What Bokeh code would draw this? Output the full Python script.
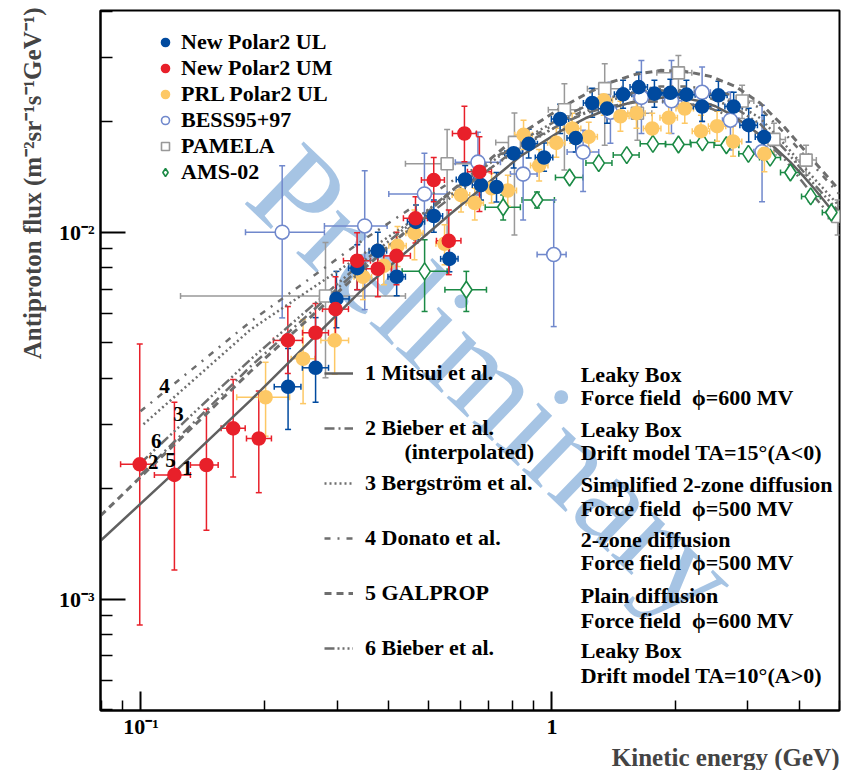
from bokeh.plotting import figure
from bokeh.models import (ColumnDataSource, Range1d, FixedTicker, Whisker, TeeHead,
                          Legend, LegendItem, Label, Title)
from bokeh.core.properties import value
from bokeh.embed import file_html
from bokeh.resources import INLINE

FONT = "Liberation Serif"

# ---------------- data (kinetic energy in GeV, flux in m^-2 sr^-1 s^-1 GeV^-1) -------------
ul_x = [0.228, 0.266, 0.299, 0.336, 0.377, 0.419, 0.467, 0.516, 0.563, 0.615, 0.672, 0.733, 0.807, 0.878, 0.957,
        1.047, 1.143, 1.253, 1.362, 1.490, 1.627, 1.776, 1.942, 2.125, 2.320, 2.542, 2.769, 3.012, 3.283]
ul_y = [3.79e-3, 4.27e-3, 6.58e-3, 7.98e-3, 8.90e-3, 7.56e-3, 1.067e-2, 1.107e-2, 8.46e-3, 1.392e-2, 1.344e-2,
        1.328e-2, 1.640e-2, 1.741e-2, 1.598e-2, 2.035e-2, 1.805e-2, 2.250e-2, 2.171e-2, 2.376e-2, 2.486e-2,
        2.386e-2, 2.398e-2, 2.371e-2, 2.200e-2, 2.361e-2, 2.200e-2, 1.957e-2, 1.816e-2]
ul_ylo = [2.90e-3, 3.44e-3, 5.49e-3, 6.97e-3, 7.80e-3, 6.71e-3, 9.53e-3, 1.0e-2, 7.80e-3, 1.263e-2, 1.224e-2,
          1.208e-2, 1.495e-2, 1.593e-2, 1.466e-2, 1.858e-2, 1.653e-2, 2.057e-2, 1.982e-2, 2.177e-2, 2.274e-2,
          2.19e-2, 2.204e-2, 2.170e-2, 2.007e-2, 2.149e-2, 1.994e-2, 1.760e-2, 1.572e-2]
ul_yhi = [4.82e-3, 5.85e-3, 7.82e-3, 9.24e-3, 1.0e-2, 8.52e-3, 1.186e-2, 1.224e-2, 9.18e-3, 1.52e-2, 1.477e-2,
          1.455e-2, 1.805e-2, 1.909e-2, 1.750e-2, 2.232e-2, 1.982e-2, 2.466e-2, 2.376e-2, 2.593e-2, 2.727e-2,
          2.593e-2, 2.61e-2, 2.593e-2, 2.406e-2, 2.58e-2, 2.406e-2, 2.177e-2, 2.084e-2]
ul_xlo = [0.211, 0.247, 0.278, 0.320, 0.359, 0.399, 0.445, 0.491, 0.536, 0.585, 0.640, 0.698, 0.768, 0.836, 0.911,
          0.997, 1.088, 1.193, 1.297, 1.419, 1.549, 1.691, 1.849, 2.023, 2.209, 2.420, 2.636, 2.867, 3.125]
ul_xhi = [0.245, 0.286, 0.321, 0.353, 0.396, 0.440, 0.490, 0.542, 0.591, 0.646, 0.706, 0.770, 0.847, 0.922, 1.005,
          1.099, 1.200, 1.316, 1.430, 1.565, 1.708, 1.865, 2.039, 2.231, 2.436, 2.669, 2.907, 3.163, 3.447]

um_x = [0.0993, 0.1206, 0.1443, 0.1676, 0.1935, 0.2277, 0.2659, 0.2974, 0.3357, 0.3769, 0.4185, 0.4656, 0.5157,
        0.5611, 0.6125, 0.6662]
um_y = [2.33e-3, 2.18e-3, 2.32e-3, 2.92e-3, 2.74e-3, 5.07e-3, 5.32e-3, 6.17e-3, 8.36e-3, 7.95e-3, 8.62e-3,
        1.091e-2, 1.387e-2, 9.47e-3, 1.858e-2, 1.461e-2]
um_ylo = [8.5e-4, 1.20e-3, 1.54e-3, 2.15e-3, 1.95e-3, 4.12e-3, 4.3e-3, 5.10e-3, 6.97e-3, 6.67e-3, 7.19e-3,
          9.35e-3, 1.211e-2, 7.66e-3, 1.555e-2, 1.138e-2]
um_yhi = [4.96e-3, 3.44e-3, 3.29e-3, 3.97e-3, 3.69e-3, 6.27e-3, 6.39e-3, 7.56e-3, 9.96e-3, 9.24e-3, 1.0e-2,
          1.249e-2, 1.598e-2, 1.150e-2, 2.204e-2, 1.819e-2]
um_xlo = [0.0892, 0.1078, 0.1319, 0.1567, 0.1806, 0.2100, 0.2472, 0.2765, 0.3109, 0.3503, 0.3897, 0.4351,
          0.4813, 0.5236, 0.5727, 0.6230]
um_xhi = [0.1085, 0.1319, 0.1541, 0.1793, 0.2077, 0.2472, 0.2859, 0.3198, 0.3618, 0.4070, 0.4525, 0.4980,
          0.5475, 0.6006, 0.6551, 0.7126]

prl_x = [0.201, 0.248, 0.296, 0.347, 0.390, 0.421, 0.463, 0.548, 0.601, 0.649, 0.713, 0.781, 0.853, 0.931, 1.025,
         1.120, 1.229, 1.337, 1.468, 1.606, 1.754, 1.924, 2.105, 2.305, 2.523, 2.760, 3.289]
prl_y = [3.55e-3, 4.52e-3, 5.07e-3, 7.56e-3, 8.10e-3, 9.18e-3, 9.94e-3, 9.30e-3, 1.263e-2, 1.201e-2, 1.317e-2,
         1.299e-2, 1.842e-2, 1.519e-2, 1.752e-2, 1.917e-2, 1.819e-2, 2.288e-2, 2.070e-2, 2.110e-2, 1.917e-2,
         2.051e-2, 2.173e-2, 1.885e-2, 1.945e-2, 1.767e-2, 1.635e-2]
prl_ylo = [2.78e-3, 3.41e-3, 4.10e-3, 6.55e-3, 7.19e-3, 8.06e-3, 8.41e-3, 8.15e-3, 1.135e-2, 1.080e-2, 1.201e-2,
           1.176e-2, 1.679e-2, 1.378e-2, 1.601e-2, 1.747e-2, 1.662e-2, 2.084e-2, 1.885e-2, 1.921e-2, 1.747e-2,
           1.86e-2, 1.98e-2, 1.716e-2, 1.770e-2, 1.611e-2, 1.461e-2]
prl_yhi = [4.42e-3, 5.78e-3, 6.08e-3, 8.41e-3, 9.07e-3, 1.036e-2, 1.150e-2, 1.047e-2, 1.387e-2, 1.317e-2,
           1.447e-2, 1.430e-2, 2.019e-2, 1.679e-2, 1.921e-2, 2.110e-2, 1.994e-2, 2.513e-2, 2.274e-2, 2.316e-2,
           2.110e-2, 2.26e-2, 2.387e-2, 2.084e-2, 2.136e-2, 1.945e-2, 1.838e-2]
prl_xlo = [0.171, 0.232, 0.274, 0.330, 0.371, 0.401, 0.441, 0.522, 0.572, 0.618, 0.679, 0.744, 0.812, 0.887,
           0.976, 1.067, 1.170, 1.273, 1.398, 1.530, 1.670, 1.832, 2.004, 2.195, 2.403, 2.629, 3.132]
prl_xhi = [0.230, 0.265, 0.320, 0.364, 0.410, 0.442, 0.486, 0.575, 0.631, 0.681, 0.749, 0.820, 0.896, 0.978,
           1.076, 1.176, 1.290, 1.404, 1.541, 1.686, 1.842, 2.020, 2.210, 2.420, 2.649, 2.898, 3.453]

bess_x = [0.2206, 0.3503, 0.4895, 0.6607, 0.8511, 1.0101, 1.191, 1.388, 1.651, 1.954, 2.320, 2.719, 3.246]
bess_y = [1.0e-2, 1.040e-2, 1.271e-2, 1.552e-2, 1.440e-2, 8.69e-3, 1.653e-2, 2.123e-2, 2.331e-2, 2.281e-2,
          2.406e-2, 2.019e-2, 1.656e-2]
bess_ylo = [5.84e-3, 6.15e-3, 9.83e-3, 1.263e-2, 1.080e-2, 5.53e-3, 1.290e-2, 1.747e-2, 1.858e-2, 1.858e-2,
            2.0e-2, 1.674e-2, 1.211e-2]
bess_yhi = [1.517e-2, 1.470e-2, 1.640e-2, 1.873e-2, 1.782e-2, 1.224e-2, 1.897e-2, 2.561e-2, 2.939e-2, 2.939e-2,
            2.818e-2, 2.410e-2, 2.218e-2]
bess_xlo = [0.1796, 0.2795, 0.4009, 0.5821, 0.7925, 0.9204, 1.089, 1.33, 1.58, 1.86, 2.22, 2.60, 3.10]
bess_xhi = [0.2795, 0.3972, 0.5559, 0.7494, 0.9204, 1.0828, 1.300, 1.45, 1.72, 2.07, 2.43, 2.85, 3.40]

pam_x = [0.2812, 0.5559, 0.8106, 1.0725, 1.3443, 1.6145, 2.0316, 2.9029, 3.47, 4.1546, 4.959]
pam_y = [6.70e-3, 1.536e-2, 1.757e-2, 2.157e-2, 2.462e-2, 2.11e-2, 2.718e-2, 2.278e-2, 1.790e-2, 1.572e-2, 1.103e-2]
pam_ylo = [4.01e-3, 9.83e-3, 9.83e-3, 1.477e-2, 1.727e-2, 1.782e-2, 2.194e-2, 2.04e-2, 1.622e-2, 1.432e-2, 9.83e-3]
pam_yhi = [9.37e-3, 1.905e-2, 2.113e-2, 2.540e-2, 2.878e-2, 2.386e-2, 3.032e-2, 2.513e-2, 1.98e-2, 1.727e-2, 1.224e-2]
pam_xlo = [0.1248, 0.4401, 0.73, 0.98, 1.22, 1.50, 1.80, 2.70, 3.30, 3.93, 4.70]
pam_xhi = [0.4401, 0.6515, 0.90, 1.17, 1.48, 1.75, 2.19, 3.10, 3.70, 4.40, 5.0]

ams_x = [0.490, 0.619, 0.761, 0.920, 1.104, 1.300, 1.521, 1.761, 2.032, 2.324, 2.658, 3.007, 3.396, 3.805, 4.263, 4.786]
ams_y = [7.82e-3, 6.97e-3, 1.169e-2, 1.224e-2, 1.409e-2, 1.543e-2, 1.622e-2, 1.741e-2, 1.734e-2, 1.757e-2,
         1.725e-2, 1.635e-2, 1.597e-2, 1.454e-2, 1.252e-2, 1.132e-2]
ams_ylo = [6.08e-3, 6.08e-3, 1.080e-2, 1.164e-2, 1.37e-2, 1.50e-2, 1.58e-2, 1.70e-2, 1.69e-2, 1.71e-2, 1.68e-2,
           1.59e-2, 1.55e-2, 1.41e-2, 1.21e-2, 1.09e-2]
ams_yhi = [9.53e-3, 7.82e-3, 1.263e-2, 1.287e-2, 1.453e-2, 1.59e-2, 1.67e-2, 1.79e-2, 1.78e-2, 1.81e-2, 1.77e-2,
           1.68e-2, 1.64e-2, 1.50e-2, 1.29e-2, 1.17e-2]
ams_xlo = [0.432, 0.549, 0.688, 0.846, 1.02, 1.21, 1.41, 1.64, 1.89, 2.17, 2.48, 2.85, 3.20, 3.60, 4.05, 4.55]
ams_xhi = [0.556, 0.693, 0.838, 1.014, 1.19, 1.40, 1.63, 1.89, 2.18, 2.49, 2.85, 3.18, 3.60, 4.00, 4.50, 5.00]

# model curves
c1_x = [0.0797, 0.1206, 0.1847, 0.342, 0.566, 0.838, 1.049, 1.206, 1.388, 1.597, 1.889, 2.112, 2.298, 2.500,
        2.719, 2.957, 3.216, 3.498, 3.805, 4.092, 4.377, 4.708, 5.0]
c1_y = [1.442e-3, 2.214e-3, 3.48e-3, 6.90e-3, 1.121e-2, 1.611e-2, 1.885e-2, 2.044e-2, 2.177e-2, 2.274e-2,
        2.331e-2, 2.316e-2, 2.274e-2, 2.204e-2, 2.097e-2, 1.969e-2, 1.838e-2, 1.695e-2, 1.552e-2, 1.422e-2,
        1.303e-2, 1.179e-2, 1.07e-2]
c2_x = [0.0997, 0.1847, 0.342, 0.566, 0.838, 1.049, 1.206, 1.388, 1.597, 1.837, 2.112, 2.430, 2.796, 3.216,
        3.700, 4.256, 5.0]
c2_y = [2.177e-3, 4.305e-3, 7.999e-3, 1.240e-2, 1.716e-2, 1.969e-2, 2.110e-2, 2.204e-2, 2.260e-2, 2.274e-2,
        2.246e-2, 2.177e-2, 2.044e-2, 1.827e-2, 1.572e-2, 1.287e-2, 1.040e-2]
c3_x = [0.1014, 0.1847, 0.342, 0.566, 0.838, 1.049, 1.206, 1.388, 1.597, 1.837, 2.112, 2.430, 2.796, 3.216,
        3.700, 4.256, 5.0]
c3_y = [2.995e-3, 5.426e-3, 8.624e-3, 1.263e-2, 1.695e-2, 1.969e-2, 2.123e-2, 2.288e-2, 2.391e-2, 2.451e-2,
        2.436e-2, 2.376e-2, 2.246e-2, 2.044e-2, 1.727e-2, 1.437e-2, 1.179e-2]
c4_x = [0.0997, 0.1847, 0.342, 0.566, 0.838, 1.049, 1.206, 1.388, 1.597, 1.837, 2.112, 2.430, 2.796, 3.216,
        3.700, 4.256, 5.0]
c4_y = [3.249e-3, 5.703e-3, 9.41e-3, 1.370e-2, 1.749e-2, 2.006e-2, 2.149e-2, 2.316e-2, 2.436e-2, 2.497e-2,
        2.497e-2, 2.451e-2, 2.346e-2, 2.177e-2, 1.850e-2, 1.552e-2, 1.271e-2]
c5_x = [0.0797, 0.0997, 0.1847, 0.342, 0.566, 0.838, 1.049, 1.206, 1.388, 1.597, 1.837, 2.112, 2.430, 2.796,
        3.216, 3.700, 4.256, 5.0]
c5_y = [1.687e-3, 2.150e-3, 4.172e-3, 7.80e-3, 1.287e-2, 1.850e-2, 2.177e-2, 2.376e-2, 2.561e-2, 2.693e-2,
        2.761e-2, 2.744e-2, 2.659e-2, 2.497e-2, 2.246e-2, 1.921e-2, 1.602e-2, 1.303e-2]
c6_x = [0.0997, 0.1847, 0.342, 0.566, 0.838, 1.049, 1.206, 1.388, 1.597, 1.837, 2.112, 2.430, 2.796, 3.216,
        3.700, 4.256, 5.0]
c6_y = [2.346e-3, 4.498e-3, 8.20e-3, 1.287e-2, 1.771e-2, 2.044e-2, 2.204e-2, 2.331e-2, 2.406e-2, 2.436e-2,
        2.406e-2, 2.316e-2, 2.177e-2, 1.969e-2, 1.674e-2, 1.387e-2, 1.136e-2]

curve_num_text = ["4", "3", "6", "2", "5", "1"]
curve_num_x = [0.1141, 0.1234, 0.1089, 0.1071, 0.1180, 0.1295]
curve_num_y = [3.82e-3, 3.19e-3, 2.70e-3, 2.36e-3, 2.39e-3, 2.27e-3]

model_names = ["1 Mitsui et al.", "2 Bieber et al.", "3 Bergström et al.", "4 Donato et al.",
               "5 GALPROP", "6 Bieber et al."]
desc_text = ["Leaky Box", "Force field\u00a0 ϕ=600 MV",
             "Leaky Box", "Drift model TA=15°(A<0)",
             "Simplified 2-zone diffusion", "Force field\u00a0 ϕ=500 MV",
             "2-zone diffusion", "Force field\u00a0 ϕ=500 MV",
             "Plain diffusion", "Force field\u00a0 ϕ=600 MV",
             "Leaky Box", "Drift model TA=10°(A>0)"]
desc_x = [1.175] * 12
desc_y = [4.10e-3, 3.546e-3, 2.902e-3, 2.513e-3, 2.057e-3, 1.770e-3, 1.449e-3, 1.255e-3, 1.021e-3, 8.73e-4,
          7.24e-4, 6.19e-4]

x_major = [0.1, 1.0]
x_minor = [0.08, 0.09, 0.2, 0.3, 0.4, 0.5, 0.6, 0.7, 0.8, 0.9, 2.0, 3.0, 4.0, 5.0]
y_major = [0.001, 0.01]
y_minor = [5e-4, 6e-4, 7e-4, 8e-4, 9e-4, 2e-3, 3e-3, 4e-3, 5e-3, 6e-3, 7e-3, 8e-3, 9e-3, 0.02, 0.03, 0.04]

# ---------------- figure -------------
p = figure(width=841, height=770, x_axis_type="log", y_axis_type="log",
           x_range=Range1d(0.0797, 5.01), y_range=Range1d(4.97e-4, 0.0402),
           output_backend="svg", toolbar_location=None,
           min_border_left=100, min_border_right=2, min_border_top=10, min_border_bottom=57)
p.grid.visible = False
p.outline_line_color = "black"
p.outline_line_width = 2
p.background_fill_color = "white"
p.border_fill_color = "white"

for ax, major, minor, tin, tmin, labels, standoff in (
        (p.xaxis[0], x_major, x_minor, 19, 10, {0.1: "10⁻¹", 1: "1"}, 3),
        (p.yaxis[0], y_major, y_minor, 25, 12, {0.001: "10⁻³", 0.01: "10⁻²"}, 6)):
    ax.ticker = FixedTicker(ticks=major, minor_ticks=minor)
    ax.major_label_overrides = labels
    ax.major_tick_in = tin
    ax.major_tick_out = 0
    ax.minor_tick_in = tmin
    ax.minor_tick_out = 0
    ax.major_tick_line_width = 2
    ax.minor_tick_line_width = 1.5
    ax.axis_line_width = 2
    ax.major_label_text_font = FONT
    ax.major_label_text_font_style = "bold"
    ax.major_label_text_font_size = "22px"
    ax.major_label_text_color = "black"
    ax.major_label_standoff = standoff

# axis titles
p.add_layout(Title(text="Kinetic energy (GeV)", align="right", text_font=FONT, text_font_style="bold",
                   text_font_size="25px", standoff=0), "below")
p.add_layout(Title(text="Antiproton flux (m⁻²sr⁻¹s⁻¹GeV⁻¹)", align="right", offset=-3, text_font=FONT,
                   text_font_style="bold", text_font_size="25px", standoff=20), "left")

# watermark (beneath everything)
p.add_layout(Label(x=0.729, y=3.885e-3, text="Preliminary", angle=-0.765, text_font=FONT,
                   text_font_size="131px", text_color="#a6c4e4", text_align="center",
                   text_baseline="middle", level="underlay"))

# error bars
def add_errors(src, color, lw=1.5, cap=6):
    for base, lo, hi, dim in (("x", "ylo", "yhi", "height"), ("y", "xlo", "xhi", "width")):
        p.add_layout(Whisker(source=src, base=base, lower=lo, upper=hi, dimension=dim,
                             line_color=color, line_width=lw,
                             upper_head=TeeHead(size=cap, line_color=color, line_width=lw),
                             lower_head=TeeHead(size=cap, line_color=color, line_width=lw)))

series = [
    ("PAMELA", pam_x, pam_y, pam_xlo, pam_xhi, pam_ylo, pam_yhi, "#999999", "white", "square", 12),
    ("AMS-02", ams_x, ams_y, ams_xlo, ams_xhi, ams_ylo, ams_yhi, "#1b8a45", "white", "diamond", 17),
    ("BESS95+97", bess_x, bess_y, bess_xlo, bess_xhi, bess_ylo, bess_yhi, "#7088cc", "white", "circle", 14),
    ("PRL Polar2 UL", prl_x, prl_y, prl_xlo, prl_xhi, prl_ylo, prl_yhi, "#fdc865", "#fdc865", "circle", 13),
    ("New Polar2 UL", ul_x, ul_y, ul_xlo, ul_xhi, ul_ylo, ul_yhi, "#004a9f", "#004a9f", "circle", 13),
    ("New Polar2 UM", um_x, um_y, um_xlo, um_xhi, um_ylo, um_yhi, "#e8202a", "#e8202a", "circle", 13),
]
sources = {}
for name, x, y, xlo, xhi, ylo, yhi, col, fill, marker, size in series:
    src = ColumnDataSource(dict(x=x, y=y, xlo=xlo, xhi=xhi, ylo=ylo, yhi=yhi))
    sources[name] = src
    add_errors(src, col)

# model curves
curve_style = [
    (c1_x, c1_y, "solid", "#606060", 2.5),
    (c2_x, c2_y, "10 4 2 4", "#6e6e6e", 2.5),
    (c3_x, c3_y, "2 3", "#6e6e6e", 2.5),
    (c4_x, c4_y, "6 7 2 7", "#6e6e6e", 2.5),
    (c5_x, c5_y, "7 5", "#6e6e6e", 3),
    (c6_x, c6_y, "10 3 2 3 2 3 2 3", "#6e6e6e", 2.5),
]
curve_renderers = []
for cx, cy, dash, col, lw in curve_style:
    curve_renderers.append(p.line(cx, cy, line_color=col, line_width=lw, line_dash=dash))

# data markers
marker_renderers = {}
for name, x, y, xlo, xhi, ylo, yhi, col, fill, marker, size in series:
    marker_renderers[name] = p.scatter("x", "y", source=sources[name], marker=marker, size=size,
                                       fill_color=fill, line_color=col, line_width=1.6)

# curve number labels
p.text(curve_num_x, curve_num_y, text=curve_num_text, text_font=value(FONT), text_font_style="bold",
       text_font_size="21px", text_align="center", text_baseline="middle", text_color="black")

# model descriptions
p.text(desc_x, desc_y, text=desc_text, text_font=value(FONT), text_font_style="bold",
       text_font_size="22px", text_align="left", text_baseline="middle", text_color="black")
p.add_layout(Label(x=0.4376, y=2.53e-3, text="(interpolated)", text_font=FONT, text_font_style="bold",
                   text_font_size="22px", text_align="left", text_baseline="middle", text_color="black"))

legend_style = dict(orientation="vertical", padding=0, margin=0, background_fill_alpha=0, border_line_alpha=0,
                    label_text_font=FONT, label_text_font_style="bold", label_text_font_size="22px",
                    label_text_color="black")

# data legend
legend_order = ["New Polar2 UL", "New Polar2 UM", "PRL Polar2 UL", "BESS95+97", "PAMELA", "AMS-02"]
leg1 = Legend(items=[LegendItem(label=n, renderers=[marker_renderers[n]]) for n in legend_order],
              location=(55, 525), glyph_width=20, glyph_height=24, label_height=24, spacing=0,
              label_standoff=6, **legend_style)
p.add_layout(leg1)

# model legend
leg2 = Legend(items=[LegendItem(label=n, renderers=[r]) for n, r in zip(model_names, curve_renderers)],
              location=(224, 47), glyph_width=29, glyph_height=30, label_height=30, spacing=25,
              label_standoff=12, **legend_style)
p.add_layout(leg2)

open("out.html", "w").write(file_html(p, INLINE))
